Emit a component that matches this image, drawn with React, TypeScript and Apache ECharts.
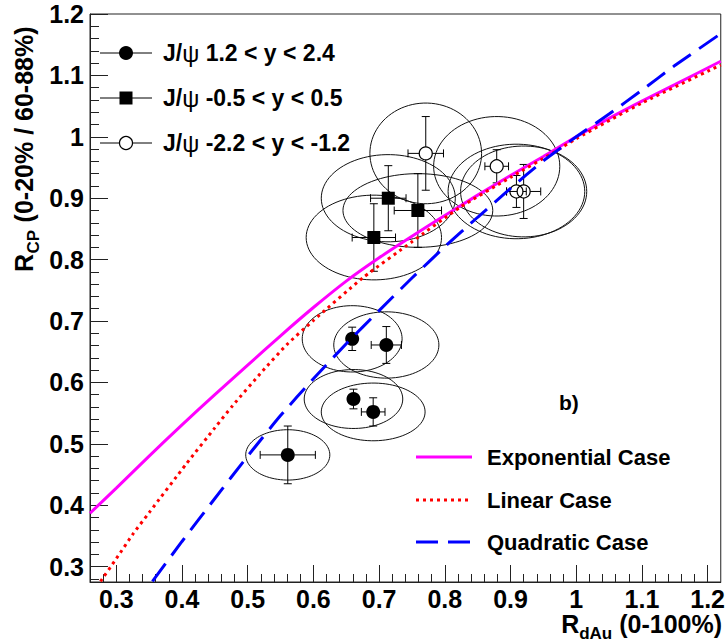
import React, { useEffect, useRef } from "react";
import * as echarts from "echarts";

// ---------- axes ----------
const xMajorTicks = [0.3, 0.4, 0.5, 0.6, 0.7, 0.8, 0.9, 1.0, 1.1, 1.2];
const xTickLabels = ["0.3", "0.4", "0.5", "0.6", "0.7", "0.8", "0.9", "1", "1.1", "1.2"];
const xMinorTicks = [
  0.28, 0.3, 0.32, 0.34, 0.36, 0.38, 0.4, 0.42, 0.44, 0.46, 0.48, 0.5, 0.52, 0.54, 0.56, 0.58,
  0.6, 0.62, 0.64, 0.66, 0.68, 0.7, 0.72, 0.74, 0.76, 0.78, 0.8, 0.82, 0.84, 0.86, 0.88, 0.9,
  0.92, 0.94, 0.96, 0.98, 1.0, 1.02, 1.04, 1.06, 1.08, 1.1, 1.12, 1.14, 1.16, 1.18, 1.2,
];
const yMajorTicks = [0.3, 0.4, 0.5, 0.6, 0.7, 0.8, 0.9, 1.0, 1.1, 1.2];
const yTickLabels = ["0.3", "0.4", "0.5", "0.6", "0.7", "0.8", "0.9", "1", "1.1", "1.2"];
const yMinorTicks = [
  0.28, 0.3, 0.32, 0.34, 0.36, 0.38, 0.4, 0.42, 0.44, 0.46, 0.48, 0.5, 0.52, 0.54, 0.56, 0.58,
  0.6, 0.62, 0.64, 0.66, 0.68, 0.7, 0.72, 0.74, 0.76, 0.78, 0.8, 0.82, 0.84, 0.86, 0.88, 0.9,
  0.92, 0.94, 0.96, 0.98, 1.0, 1.02, 1.04, 1.06, 1.08, 1.1, 1.12, 1.14, 1.16, 1.18,
];

// ---------- data: [R_dAu, R_CP, errX, errY, ellipseRx, ellipseRy] ----------
const forwardPoints = [
  [0.561, 0.482, 0.042, 0.047, 0.064, 0.041],
  [0.659, 0.671, 0.009, 0.019, 0.076, 0.054],
  [0.711, 0.661, 0.023, 0.03, 0.08, 0.054],
  [0.661, 0.573, 0.009, 0.016, 0.075, 0.048],
  [0.691, 0.552, 0.018, 0.023, 0.079, 0.047],
];
const midPoints = [
  [0.714, 0.9, 0.027, 0.053, 0.102, 0.071],
  [0.759, 0.88, 0.036, 0.06, 0.114, 0.06],
  [0.692, 0.836, 0.033, 0.055, 0.103, 0.069],
];
const backwardPoints = [
  [0.771, 0.973, 0.027, 0.06, 0.085, 0.082],
  [0.879, 0.952, 0.018, 0.027, 0.096, 0.081],
  [0.909, 0.911, 0.015, 0.026, 0.104, 0.077],
  [0.92, 0.911, 0.026, 0.044, 0.096, 0.074],
];

// ---------- model curves [R_dAu, R_CP] ----------
const exponentialCurve = [
  [0.26, 0.387], [0.3, 0.428], [0.35, 0.48], [0.4, 0.531], [0.45, 0.58], [0.5, 0.628],
  [0.55, 0.676], [0.6, 0.722], [0.65, 0.765], [0.7, 0.803], [0.75, 0.838], [0.8, 0.872],
  [0.85, 0.905], [0.9, 0.937], [0.95, 0.968], [1.0, 1.0], [1.05, 1.03], [1.1, 1.058],
  [1.15, 1.085], [1.22, 1.123],
];
const linearCurve = [
  [0.276, 0.276], [0.3, 0.313], [0.326, 0.354], [0.35, 0.388], [0.407, 0.468], [0.45, 0.526],
  [0.477, 0.562], [0.523, 0.619], [0.56, 0.662], [0.599, 0.7], [0.676, 0.771], [0.75, 0.829],
  [0.823, 0.885], [0.9, 0.934], [0.968, 0.976], [1.0, 0.997], [1.1, 1.055], [1.22, 1.117],
];
const quadraticCurve = [
  [0.355, 0.276], [0.4, 0.341], [0.45, 0.411], [0.5, 0.48], [0.55, 0.546], [0.6, 0.606],
  [0.65, 0.663], [0.7, 0.717], [0.75, 0.77], [0.8, 0.821], [0.85, 0.869], [0.9, 0.916],
  [0.95, 0.961], [1.0, 1.0], [1.05, 1.037], [1.1, 1.076], [1.15, 1.116], [1.22, 1.168],
];

const legendTop = ["J/{n|ψ} 1.2 < y < 2.4", "J/{n|ψ} -0.5 < y < 0.5", "J/{n|ψ} -2.2 < y < -1.2"];
const legendBottom = ["Exponential Case", "Linear Case", "Quadratic Case"];

const FONT = "'Liberation Sans', Arial, Helvetica, sans-serif";

function measure(text: string, font: string): number {
  const c = document.createElement("canvas").getContext("2d");
  if (!c) return text.length * 12;
  c.font = font;
  return c.measureText(text).width;
}

function labelFor(ticks: number[], labels: string[]) {
  return (v: number) => {
    const i = ticks.findIndex((t) => Math.abs(t - v) < 1e-6);
    return i >= 0 ? labels[i] : "";
  };
}

function errorBarSeries(data: number[][], gap: number, z: number) {
  return {
    type: "custom",
    xAxisIndex: 0,
    yAxisIndex: 0,
    z,
    encode: { x: 0, y: 1 },
    data,
    renderItem: (_p: any, api: any) => {
      const x = api.value(0), y = api.value(1), ex = api.value(2), ey = api.value(3);
      const c = api.coord([x, y]);
      const l = api.coord([x - ex, y]);
      const r = api.coord([x + ex, y]);
      const t = api.coord([x, y + ey]);
      const b = api.coord([x, y - ey]);
      const st = { stroke: "#000", lineWidth: 1 };
      const cap = 4;
      const ch: any[] = [];
      if (c[0] - l[0] > gap) {
        ch.push({ type: "line", shape: { x1: l[0], y1: c[1], x2: c[0] - gap, y2: c[1] }, style: st });
        ch.push({ type: "line", shape: { x1: c[0] + gap, y1: c[1], x2: r[0], y2: c[1] }, style: st });
        ch.push({ type: "line", shape: { x1: l[0], y1: c[1] - cap, x2: l[0], y2: c[1] + cap }, style: st });
        ch.push({ type: "line", shape: { x1: r[0], y1: c[1] - cap, x2: r[0], y2: c[1] + cap }, style: st });
      }
      if (b[1] - c[1] > gap) {
        ch.push({ type: "line", shape: { x1: c[0], y1: t[1], x2: c[0], y2: c[1] - gap }, style: st });
        ch.push({ type: "line", shape: { x1: c[0], y1: c[1] + gap, x2: c[0], y2: b[1] }, style: st });
        ch.push({ type: "line", shape: { x1: c[0] - cap, y1: t[1], x2: c[0] + cap, y2: t[1] }, style: st });
        ch.push({ type: "line", shape: { x1: c[0] - cap, y1: b[1], x2: c[0] + cap, y2: b[1] }, style: st });
      }
      return { type: "group", children: ch };
    },
  };
}

function ellipseSeries(data: number[][], z: number) {
  return {
    type: "custom",
    xAxisIndex: 0,
    yAxisIndex: 0,
    z,
    encode: { x: 0, y: 1 },
    data,
    renderItem: (_p: any, api: any) => {
      const c = api.coord([api.value(0), api.value(1)]);
      const s = api.size([api.value(4), api.value(5)]);
      const pts: number[][] = [];
      const n = 90;
      for (let i = 0; i < n; i++) {
        const a = (i / n) * Math.PI * 2;
        pts.push([c[0] + s[0] * Math.cos(a), c[1] + s[1] * Math.sin(a)]);
      }
      return {
        type: "polygon",
        shape: { points: pts },
        style: { fill: "none", stroke: "#111", lineWidth: 1 },
      };
    },
  };
}

export default function App() {
  const ref = useRef<HTMLDivElement>(null);

  useEffect(() => {
    if (!ref.current) return;
    const chart = echarts.init(ref.current, undefined, { renderer: "svg" });

    const axisColor = "#222";
    const tickFont = 25;

    // axis title pieces
    const fMain = `bold 25px ${FONT}`;
    const fSub = `bold 17px ${FONT}`;
    const wR = measure("R", fMain);
    const wCP = measure("CP", fSub);
    const wDAu = measure("dAu", fSub);
    const wXMain = measure(" (0-100%)", fMain);

    const xTitleRight = 722;
    const xTitleY = 624;
    const xR = xTitleRight - wXMain - wDAu - wR;

    const legTopY = [53, 98, 143];
    const legBotY = [457, 500, 542];

    const graphic: any[] = [
      // y-axis title (rotated)
      {
        type: "group",
        x: 24,
        y: 272,
        rotation: Math.PI / 2,
        children: [
          { type: "text", x: 0, y: 0, style: { text: "R", font: fMain, fill: "#000", textAlign: "left", verticalAlign: "middle", textVerticalAlign: "middle" } },
          { type: "text", x: wR + 0.5, y: 9, style: { text: "CP", font: fSub, fill: "#000", textAlign: "left", verticalAlign: "middle", textVerticalAlign: "middle" } },
          { type: "text", x: wR + wCP + 1, y: 0, style: { text: " (0-20% / 60-88%)", font: fMain, fill: "#000", textAlign: "left", verticalAlign: "middle", textVerticalAlign: "middle" } },
        ],
      },
      // x-axis title
      { type: "text", x: xR, y: xTitleY, style: { text: "R", font: fMain, fill: "#000", textAlign: "left", verticalAlign: "middle", textVerticalAlign: "middle" } },
      { type: "text", x: xR + wR, y: xTitleY + 9, style: { text: "dAu", font: fSub, fill: "#000", textAlign: "left", verticalAlign: "middle", textVerticalAlign: "middle" } },
      { type: "text", x: xR + wR + wDAu, y: xTitleY, style: { text: " (0-100%)", font: fMain, fill: "#000", textAlign: "left", verticalAlign: "middle", textVerticalAlign: "middle" } },
      // panel label
      { type: "text", x: 559, y: 402, style: { text: "b)", font: `bold 21px ${FONT}`, fill: "#000", textAlign: "left", verticalAlign: "middle", textVerticalAlign: "middle" } },
    ];

    // top-left legend
    legTopY.forEach((yy, i) => {
      graphic.push({ type: "line", shape: { x1: 100, y1: yy, x2: 152, y2: yy }, style: { stroke: "#000", lineWidth: 1 } });
      if (i === 0) graphic.push({ type: "circle", shape: { cx: 126, cy: yy, r: 7 }, style: { fill: "#000" } });
      if (i === 1) graphic.push({ type: "rect", shape: { x: 119.5, y: yy - 6.5, width: 13, height: 13 }, style: { fill: "#000" } });
      if (i === 2) graphic.push({ type: "circle", shape: { cx: 126, cy: yy, r: 6.5 }, style: { fill: "#fff", stroke: "#000", lineWidth: 1.2 } });
      graphic.push({
        type: "text",
        x: 163,
        y: yy,
        style: {
          text: legendTop[i],
          font: `bold 23px ${FONT}`,
          fill: "#000",
          textAlign: "left",
          verticalAlign: "middle",
          textVerticalAlign: "middle",
          rich: { n: { fontWeight: "normal", fontSize: 24, fontFamily: FONT } },
        },
      });
    });

    // bottom-right legend
    const legStyles = [
      { stroke: "#ff00ff", lineWidth: 3 },
      { stroke: "#ff0000", lineWidth: 3, lineDash: [3, 4] },
      { stroke: "#0000ff", lineWidth: 3, lineDash: [22, 10] },
    ];
    legBotY.forEach((yy, i) => {
      graphic.push({ type: "line", shape: { x1: 416, y1: yy, x2: 472, y2: yy }, style: legStyles[i] });
      graphic.push({
        type: "text",
        x: 487,
        y: yy,
        style: { text: legendBottom[i], font: `bold 22px ${FONT}`, fill: "#000", textAlign: "left", verticalAlign: "middle", textVerticalAlign: "middle" },
      });
    });

    const xFmt = labelFor(xMajorTicks, xTickLabels);
    const yFmt = labelFor(yMajorTicks, yTickLabels);

    const option: any = {
      animation: false,
      backgroundColor: "#fff",
      grid: { left: 90, right: 6, top: 14, bottom: 62, show: true, borderColor: axisColor, borderWidth: 1, backgroundColor: "transparent" },
      xAxis: [
        {
          type: "value", min: 0.26, max: 1.22, position: "bottom",
          axisLine: { show: true, onZero: false, lineStyle: { color: axisColor, width: 1 } },
          axisTick: { show: true, inside: true, length: 8, customValues: xMinorTicks, lineStyle: { color: axisColor, width: 1 } },
          axisLabel: { show: false },
          splitLine: { show: false },
        },
        {
          type: "value", min: 0.26, max: 1.22, position: "bottom",
          axisLine: { show: false, onZero: false },
          axisTick: { show: true, inside: true, length: 17, customValues: xMajorTicks, lineStyle: { color: axisColor, width: 1 } },
          axisLabel: { show: true, customValues: xMajorTicks, formatter: xFmt, fontSize: tickFont, fontWeight: "bold", fontFamily: FONT, color: "#000", margin: 4 },
          splitLine: { show: false },
        },
      ],
      yAxis: [
        {
          type: "value", min: 0.275, max: 1.2, position: "left",
          axisLine: { show: true, onZero: false, lineStyle: { color: axisColor, width: 1 } },
          axisTick: { show: true, inside: true, length: 9, customValues: yMinorTicks, lineStyle: { color: axisColor, width: 1 } },
          axisLabel: { show: false },
          splitLine: { show: false },
        },
        {
          type: "value", min: 0.275, max: 1.2, position: "left",
          axisLine: { show: false, onZero: false },
          axisTick: { show: true, inside: true, length: 18, customValues: yMajorTicks, lineStyle: { color: axisColor, width: 1 } },
          axisLabel: { show: true, customValues: yMajorTicks, formatter: yFmt, fontSize: tickFont, fontWeight: "bold", fontFamily: FONT, color: "#000", margin: 6 },
          splitLine: { show: false },
        },
      ],
      graphic,
      series: [
        ellipseSeries(forwardPoints, 2),
        ellipseSeries(midPoints, 2),
        ellipseSeries(backwardPoints, 2),
        errorBarSeries(forwardPoints, 6.5, 3),
        errorBarSeries(midPoints, 6, 3),
        errorBarSeries(backwardPoints, 6.5, 3),
        {
          type: "scatter", xAxisIndex: 0, yAxisIndex: 0, z: 4,
          data: forwardPoints.map((p) => [p[0], p[1]]),
          symbol: "circle", symbolSize: 14,
          itemStyle: { color: "#000", opacity: 1 },
        },
        {
          type: "scatter", xAxisIndex: 0, yAxisIndex: 0, z: 4,
          data: midPoints.map((p) => [p[0], p[1]]),
          symbol: "rect", symbolSize: 13,
          itemStyle: { color: "#000", opacity: 1 },
        },
        {
          type: "scatter", xAxisIndex: 0, yAxisIndex: 0, z: 4,
          data: backwardPoints.map((p) => [p[0], p[1]]),
          symbol: "circle", symbolSize: 13,
          itemStyle: { color: "rgba(0,0,0,0)", borderColor: "#000", borderWidth: 1.2, opacity: 1 },
        },
        {
          type: "line", xAxisIndex: 0, yAxisIndex: 0, z: 5,
          data: exponentialCurve, showSymbol: false, smooth: 0.2,
          lineStyle: { color: "#ff00ff", width: 3 },
        },
        {
          type: "line", xAxisIndex: 0, yAxisIndex: 0, z: 5,
          data: linearCurve, showSymbol: false, smooth: 0.2,
          lineStyle: { color: "#ff0000", width: 3, type: [3, 4] },
        },
        {
          type: "line", xAxisIndex: 0, yAxisIndex: 0, z: 5,
          data: quadraticCurve, showSymbol: false, smooth: 0.2,
          lineStyle: { color: "#0000ff", width: 3, type: [22, 10] },
        },
      ],
    };

    chart.setOption(option);
    return () => chart.dispose();
  }, []);

  return (
    <div
      ref={ref}
      style={{ position: "absolute", left: 0, top: 0, width: 728, height: 644, background: "#fff" }}
    />
  );
}
